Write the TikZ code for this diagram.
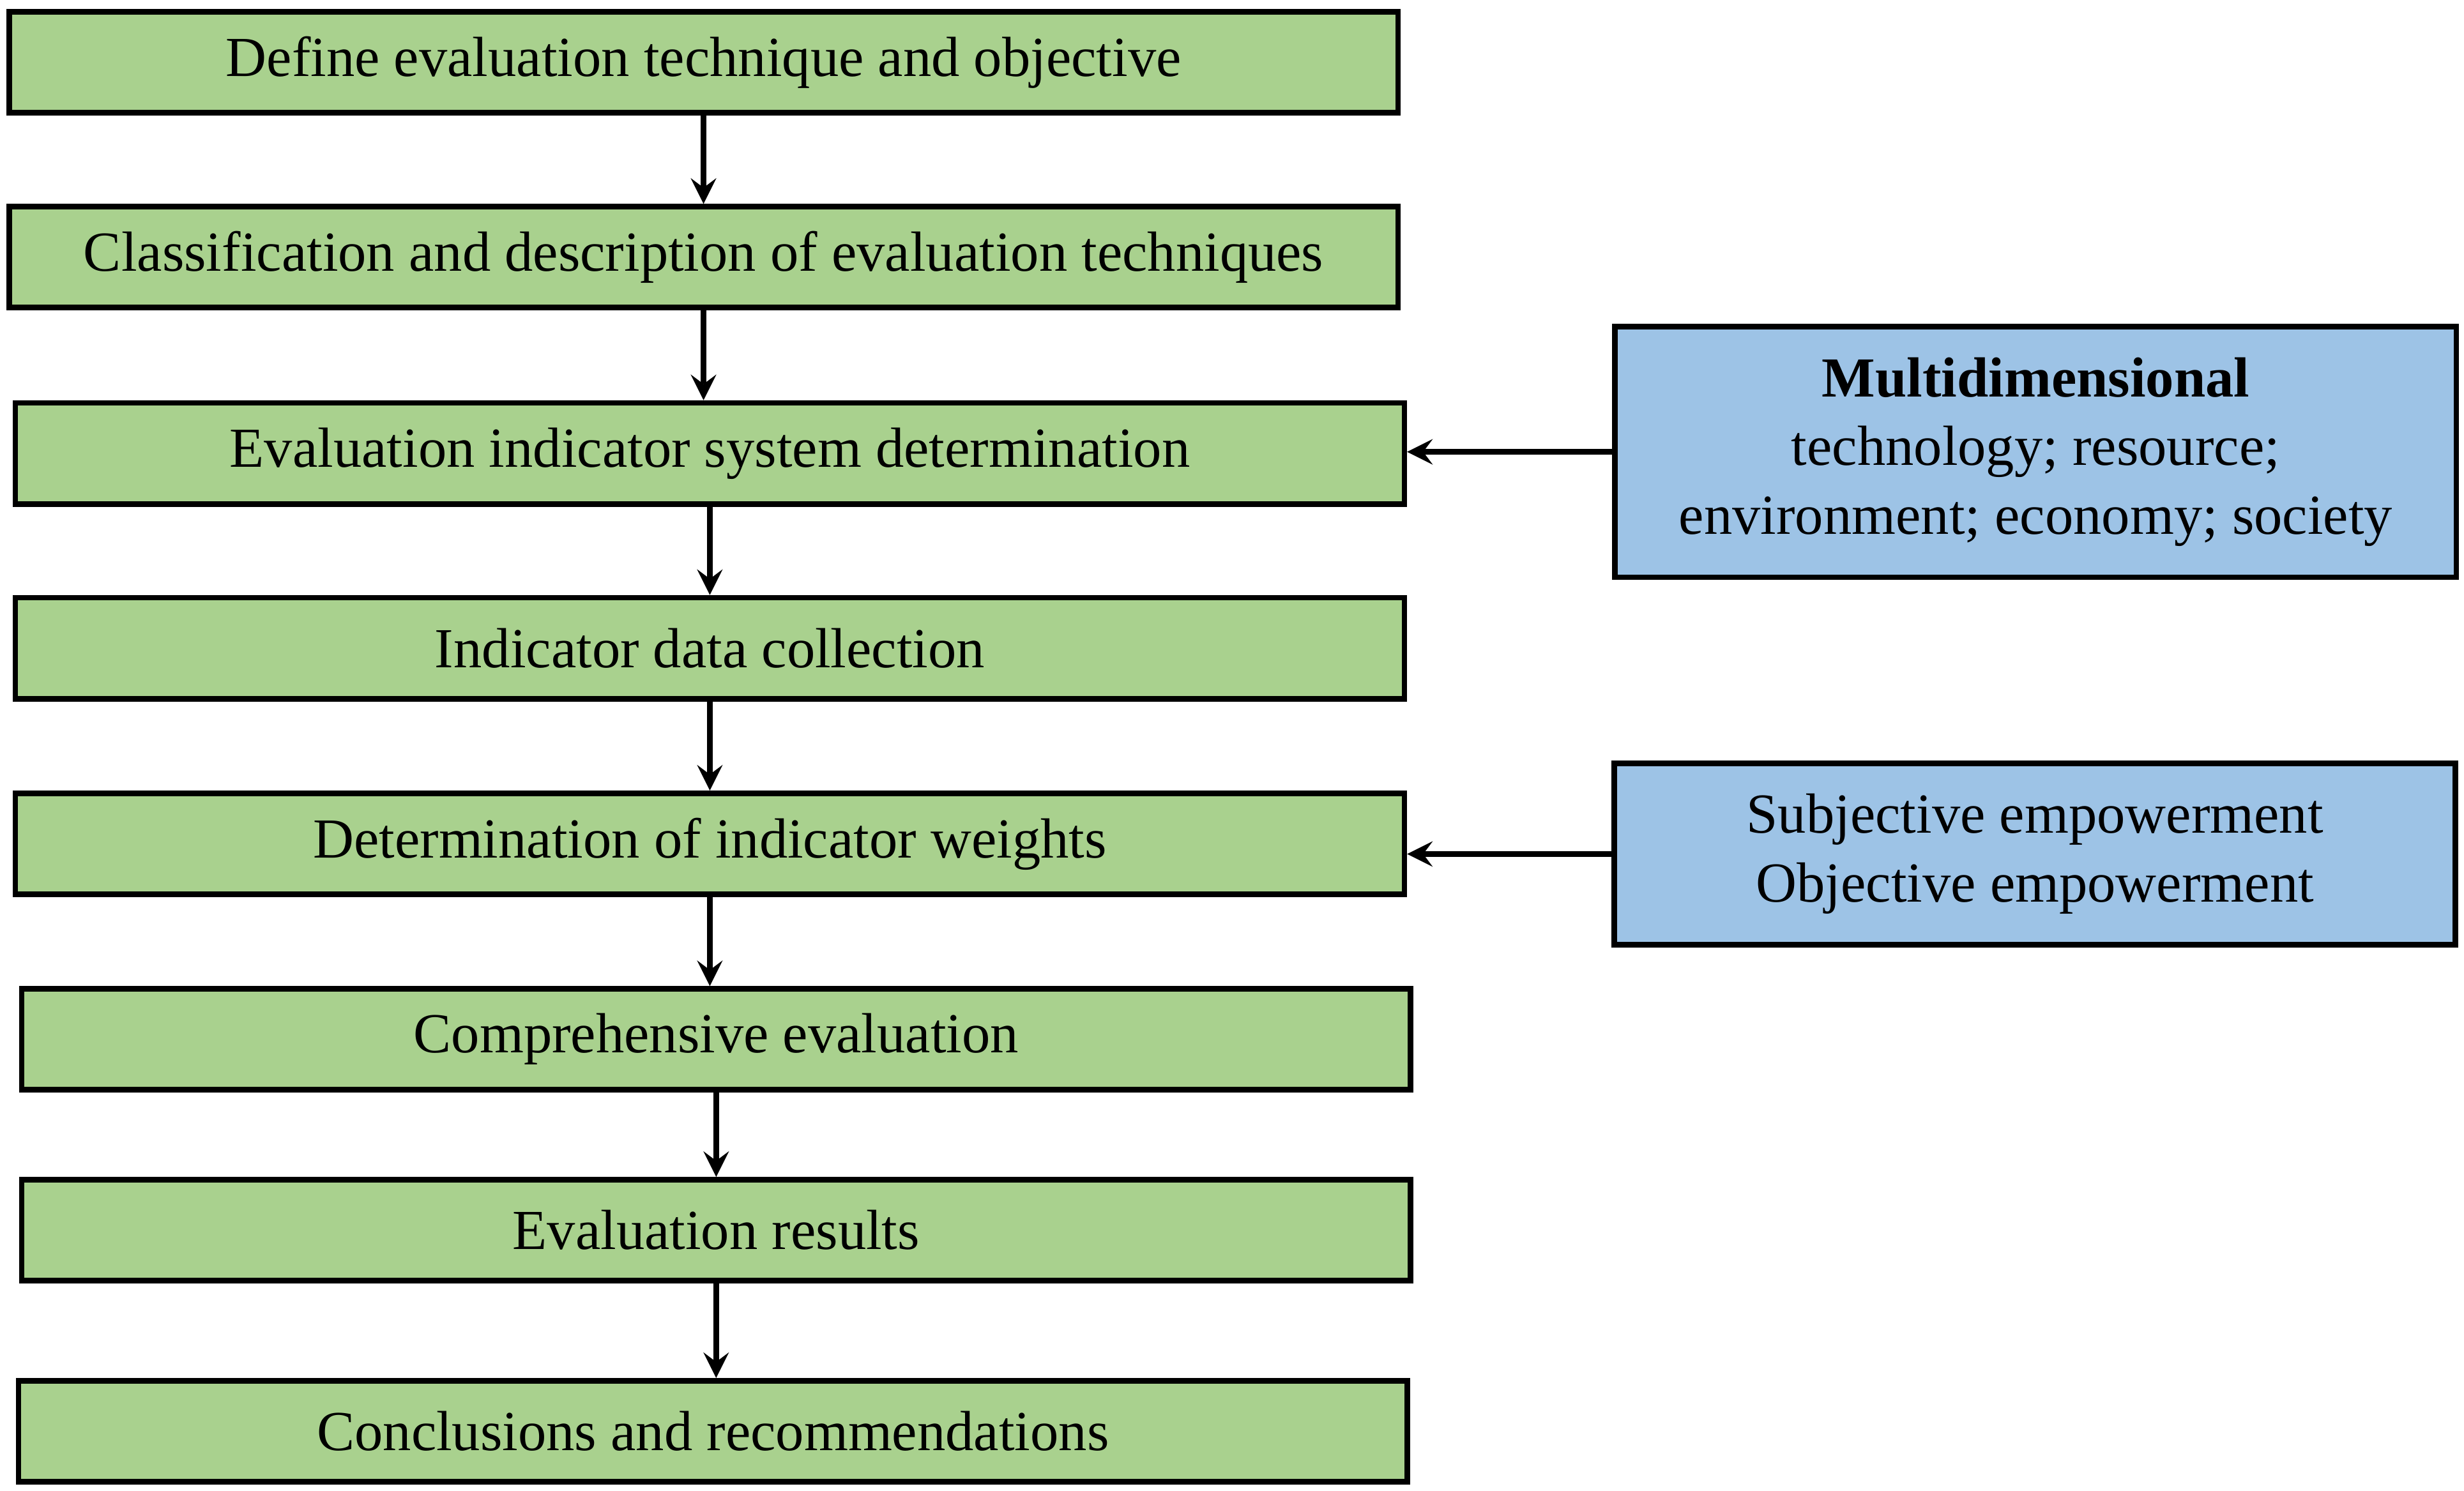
\documentclass[tikz,border=0pt]{standalone}
\usepackage{fontspec}
\setmainfont{Liberation Serif}
\definecolor{stepgreen}{HTML}{A9D18E}
\definecolor{sideblue}{HTML}{9DC3E6}
\tikzset{
  stage/.style={draw=black,line width=1pt,fill=stepgreen,minimum width=8.8cm,minimum height=0.64cm,inner sep=0pt,font=\fontsize{10.2}{12}\selectfont},
  side/.style={draw=black,line width=1pt,fill=sideblue,minimum width=5.33cm,align=center,inner sep=0pt,font=\fontsize{10.2}{12.4}\selectfont},
  flow/.style={-stealth,line width=1pt}
}
\begin{document}
\begin{tikzpicture}[x=0.01cm,y=-0.01cm]
  \useasboundingbox (0,0) rectangle (1562,945);
  \node[stage] (define) at (446,39.5) {Define evaluation technique and objective};
  \node[stage] (classify) at (446,163) {Classification and description of evaluation techniques};
  \node[stage] (system) at (450,287.5) {Evaluation indicator system determination};
  \node[stage] (data) at (450,411) {Indicator data collection};
  \node[stage] (weights) at (450,535) {Determination of indicator weights};
  \node[stage] (compre) at (454,659) {Comprehensive evaluation};
  \node[stage] (results) at (454,780) {Evaluation results};
  \node[stage] (concl) at (452,907.5) {Conclusions and recommendations};
  \node[side,minimum height=1.59cm] (multi) at (1290.5,286.5)
    {\textbf{Multidimensional}\\technology; resource;\\environment; economy; society};
  \node[side,minimum height=1.15cm] (empower) at (1290,541.5)
    {Subjective empowerment\\Objective empowerment};
  \draw[flow] (define) -- (classify);
  \draw[flow] (classify.south) -- (classify.south |- system.north);
  \draw[flow] (system) -- (data);
  \draw[flow] (data) -- (weights);
  \draw[flow] (weights.south) -- (weights.south |- compre.north);
  \draw[flow] (compre) -- (results);
  \draw[flow] (results.south) -- (results.south |- concl.north);
  \draw[flow] (multi.west) -- (multi.west -| system.east);
  \draw[flow] (empower.west) -- (empower.west -| weights.east);
\end{tikzpicture}
\end{document}
